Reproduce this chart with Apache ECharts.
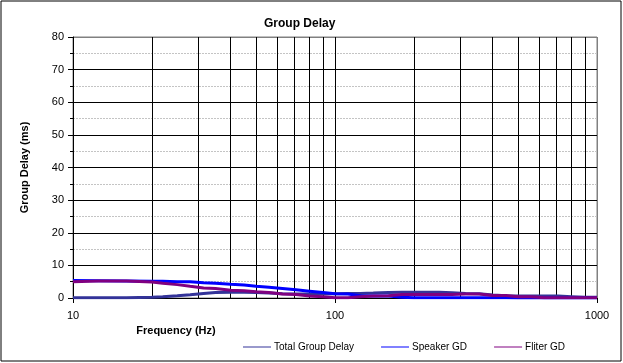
<!DOCTYPE html>
<html>
<head>
<meta charset="utf-8">
<script src="https://cdn.jsdelivr.net/npm/echarts@6/dist/echarts.min.js"></script>
<style>
html,body{margin:0;padding:0;background:#fff;}
#chart{width:623px;height:363px;}
</style>
</head>
<body>
<div id="chart"></div>
<script>
const freqs = [10, 12.5, 16, 20, 22, 25, 28, 31.5, 35, 40, 45, 50, 56, 63, 71, 80, 90, 100, 112, 125, 140, 160, 180, 200, 224, 250, 280, 315, 355, 400, 450, 500, 560, 630, 710, 800, 900, 1000];
const totalGD = [0.1, 0.1, 0.1, 0.2, 0.4, 0.7, 1.0, 1.4, 1.7, 1.8, 1.8, 1.7, 1.5, 1.3, 1.2, 1.2, 1.2, 1.3, 1.4, 1.4, 1.5, 1.7, 1.75, 1.75, 1.75, 1.75, 1.6, 1.4, 1.3, 0.9, 0.7, 0.6, 0.6, 0.6, 0.6, 0.4, 0.2, 0.2];
const speakerGD = [5.4, 5.3, 5.2, 5.1, 5.1, 5.0, 5.0, 4.7, 4.5, 4.2, 4.0, 3.6, 3.3, 2.9, 2.5, 2.1, 1.7, 1.3, 1.2, 0.7, 0.6, 0.6, 0.2, 0.1, 0.1, 0.1, 0.1, 0.1, 0.1, 0.1, 0.1, 0.0, 0.0, 0.0, 0.0, 0.0, 0.0, 0.0];
const filterGD = [5.0, 5.2, 5.2, 4.9, 4.5, 4.1, 3.6, 3.1, 2.9, 2.4, 2.2, 1.9, 1.7, 1.2, 1.1, 0.6, 0.4, 0.05, 0.1, 0.4, 0.6, 0.7, 1.1, 1.1, 1.1, 1.1, 1.1, 1.2, 1.2, 0.8, 0.8, 0.4, 0.4, 0.1, 0.1, 0.1, 0.1, 0.1];
const gridFreqs = [20, 30, 40, 50, 60, 70, 80, 90, 200, 300, 400, 500, 600, 700, 800, 900];
const seriesNames = ['Total Group Delay', 'Speaker GD', 'Fliter GD'];
const seriesColors = ['#333399', '#0000FF', '#800080'];

const font = 'Liberation Sans, Arial, sans-serif';
const chart = echarts.init(document.getElementById('chart'), null, {renderer: 'canvas'});

function pairs(vals) { return freqs.map((f, i) => [f, vals[i]]); }
const valueSets = [totalGD, speakerGD, filterGD];

const series = valueSets.map((vals, i) => ({
  name: seriesNames[i],
  type: 'line',
  data: pairs(vals),
  showSymbol: false,
  symbol: 'none',
  lineStyle: {color: seriesColors[i], width: 3},
  itemStyle: {color: seriesColors[i]},
  z: 3 + i,
  animation: false
}));
series[0].markLine = {
  silent: true,
  symbol: 'none',
  label: {show: false},
  lineStyle: {color: '#000', width: 1, type: 'solid'},
  data: gridFreqs.map(f => ({xAxis: f})),
  animation: false,
  z: 1
};

chart.setOption({
  animation: false,
  backgroundColor: '#fff',
  textStyle: {fontFamily: font, color: '#000'},
  title: {
    text: 'Group Delay',
    left: 259, top: 13,
    textStyle: {fontFamily: font, fontSize: 12, fontWeight: 'bold', color: '#000'}
  },
  legend: {
    data: seriesNames,
    left: 238, top: 337,
    icon: 'rect',
    itemWidth: 28, itemHeight: 1,
    itemGap: 27,
    textStyle: {fontFamily: font, fontSize: 10, color: '#000', padding: [0,0,0,-2]}
  },
  graphic: [{
    type: 'rect', shape: {x: 1, y: 1, width: 620, height: 360},
    style: {fill: 'none', stroke: '#000', lineWidth: 1}, silent: true, z: 0
  }],
  grid: {left: 73, right: 26, top: 37, bottom: 65, show: true, borderColor: '#808080', borderWidth: 1, backgroundColor: 'transparent'},
  xAxis: {
    type: 'log', logBase: 10, min: 10, max: 1000,
    name: 'Frequency (Hz)', nameLocation: 'middle', nameGap: 22,
    nameTextStyle: {fontFamily: font, fontSize: 11, fontWeight: 'bold', color: '#000', padding: [0, 318, 0, 0]},
    axisLine: {show: true, lineStyle: {color: '#000', width: 1}},
    axisTick: {show: true, inside: false, length: 5, lineStyle: {color: '#000'}},
    axisLabel: {show: true, margin: 12, fontSize: 11, fontFamily: font, color: '#000', formatter: v => String(Math.round(v))},
    splitLine: {show: true, lineStyle: {color: ['#000', '#000', '#808080'], width: 1}},
    minorTick: {show: false}
  },
  yAxis: {
    type: 'value', min: 0, max: 80, interval: 10,
    name: 'Group Delay (ms)', nameLocation: 'middle', nameGap: 43, nameRotate: 90,
    nameTextStyle: {fontFamily: font, fontSize: 11, fontWeight: 'bold', color: '#000'},
    axisLine: {show: true, lineStyle: {color: '#000', width: 1}},
    axisTick: {show: true, inside: false, length: 5, lineStyle: {color: '#000'}},
    minorTick: {show: true, splitNumber: 2, length: 3, lineStyle: {color: '#000'}},
    minorSplitLine: {show: true, lineStyle: {color: '#c4c4c4', type: [2, 1], width: 1}},
    axisLabel: {show: true, margin: 9, fontSize: 11, fontFamily: font, color: '#000'},
    splitLine: {show: true, lineStyle: {color: ['#000','#000','#000','#000','#000','#000','#000','#000','#808080'], width: 1}}
  },
  series: series
});
</script>
</body>
</html>
